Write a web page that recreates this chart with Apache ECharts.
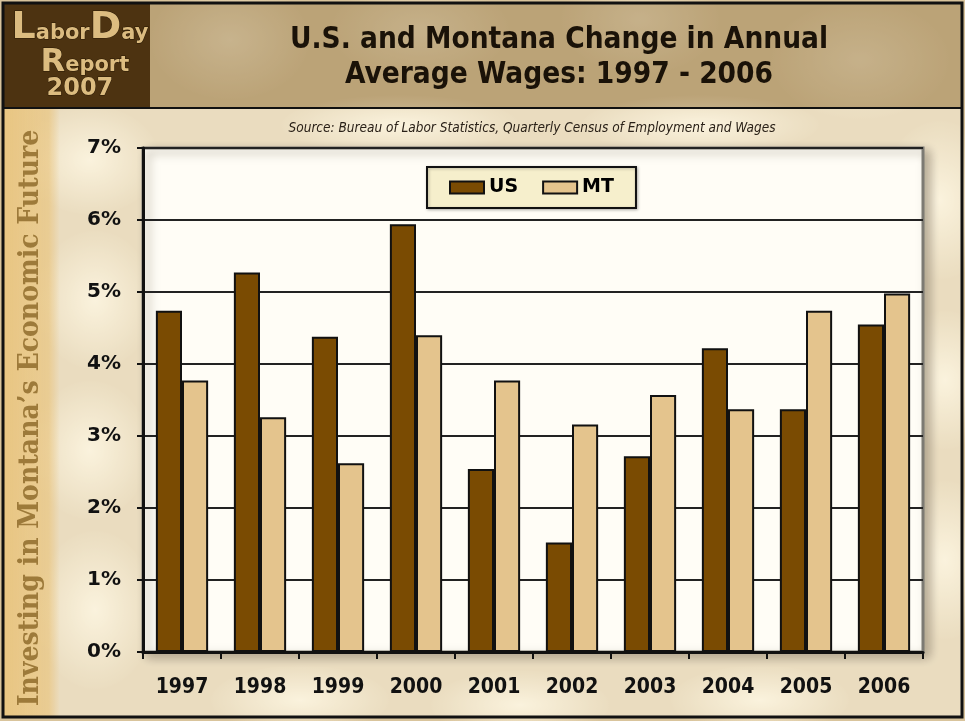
<!DOCTYPE html>
<html>
<head>
<meta charset="utf-8">
<script src="https://cdn.jsdelivr.net/npm/echarts@6/dist/echarts.min.js"></script>
<style>
  html, body { margin: 0; padding: 0; background: #fff; }
  #main {
    width: 965px; height: 721px;
    background-color: #d9c49c;
    background-image:
      radial-gradient(ellipse 70px 55px at 90px 160px, rgba(250,240,215,0.9), rgba(250,240,215,0) 100%),
      radial-gradient(ellipse 80px 60px at 230px 40px, rgba(245,232,205,0.7), rgba(245,232,205,0) 100%),
      radial-gradient(ellipse 90px 50px at 420px 30px, rgba(245,232,205,0.6), rgba(245,232,205,0) 100%),
      radial-gradient(ellipse 80px 55px at 640px 20px, rgba(245,232,205,0.6), rgba(245,232,205,0) 100%),
      radial-gradient(ellipse 90px 60px at 860px 60px, rgba(245,232,205,0.6), rgba(245,232,205,0) 100%),
      radial-gradient(ellipse 60px 80px at 940px 200px, rgba(250,240,215,0.9), rgba(250,240,215,0) 100%),
      radial-gradient(ellipse 55px 70px at 945px 380px, rgba(250,240,215,0.9), rgba(250,240,215,0) 100%),
      radial-gradient(ellipse 55px 80px at 945px 560px, rgba(250,240,215,0.9), rgba(250,240,215,0) 100%),
      radial-gradient(ellipse 60px 70px at 95px 300px, rgba(250,240,215,0.9), rgba(250,240,215,0) 100%),
      radial-gradient(ellipse 60px 70px at 90px 450px, rgba(250,240,215,0.9), rgba(250,240,215,0) 100%),
      radial-gradient(ellipse 60px 80px at 95px 610px, rgba(250,240,215,0.9), rgba(250,240,215,0) 100%),
      radial-gradient(ellipse 90px 35px at 300px 700px, rgba(250,240,215,0.9), rgba(250,240,215,0) 100%),
      radial-gradient(ellipse 90px 35px at 520px 705px, rgba(250,240,215,0.9), rgba(250,240,215,0) 100%),
      radial-gradient(ellipse 90px 35px at 760px 700px, rgba(250,240,215,0.9), rgba(250,240,215,0) 100%),
      radial-gradient(ellipse 120px 30px at 400px 125px, rgba(250,240,215,0.9), rgba(250,240,215,0) 100%),
      radial-gradient(ellipse 120px 30px at 700px 125px, rgba(250,240,215,0.9), rgba(250,240,215,0) 100%);
  }
</style>
</head>
<body>
<div id="main"></div>
<script>
  // values (percent change)
  var years = ['1997', '1998', '1999', '2000', '2001', '2002', '2003', '2004', '2005', '2006'];
  var usValues = [4.74, 5.27, 4.38, 5.94, 2.54, 1.52, 2.72, 4.22, 3.37, 4.55];
  var mtValues = [3.77, 3.26, 2.62, 4.40, 3.77, 3.16, 3.57, 3.37, 4.74, 4.98];
  var seriesNames = ['US', 'MT'];
  var yMin = 0, yMax = 7, yStep = 1;

  var usColor = '#7a4b02';
  var mtColor = '#e4c48d';
  var narrow = "'DejaVu Sans Condensed', sans-serif";
  var logoTan = '#dcbc80';

  var chart = echarts.init(document.getElementById('main'), null, { renderer: 'canvas' });

  var option = {
    animation: false,
    backgroundColor: 'transparent',
    graphic: [
      // header band
      { type: 'rect', z: 0, shape: { x: 150, y: 4, width: 812, height: 104 },
        style: { fill: 'rgba(140,110,60,0.38)' } },
      // body wash
      { type: 'rect', z: 0, shape: { x: 4, y: 109, width: 958, height: 608 },
        style: { fill: 'rgba(255,250,235,0.45)' } },
      // left strip
      { type: 'rect', z: 0, shape: { x: 4, y: 109, width: 56, height: 608 },
        style: { fill: new echarts.graphic.LinearGradient(0, 0, 1, 0, [
          { offset: 0, color: 'rgba(232,190,110,0.75)' },
          { offset: 0.8, color: 'rgba(232,190,110,0.55)' },
          { offset: 1, color: 'rgba(232,190,110,0)' }
        ]) } },
      // logo box
      { type: 'rect', z: 1, shape: { x: 4, y: 4, width: 146, height: 104 },
        style: { fill: '#4d3311' } },
      { type: 'text', z: 2, left: 11, top: 9,
        style: {
          text: '{b|L}{s|abor}{b|D}{s|ay}',
          rich: {
            b: { fontSize: 38, fontWeight: 'bold', fontFamily: 'DejaVu Sans', fill: logoTan, stroke: '#2a1a05', lineWidth: 1 },
            s: { fontSize: 21, fontWeight: 'bold', fontFamily: 'DejaVu Sans', fill: logoTan, stroke: '#2a1a05', lineWidth: 1, verticalAlign: 'bottom', padding: [0, 0, 3, 0] }
          }
        } },
      { type: 'text', z: 2, left: 40, top: 46,
        style: {
          text: '{b|R}{s|eport}',
          rich: {
            b: { fontSize: 32, fontWeight: 'bold', fontFamily: 'DejaVu Sans', fill: logoTan, stroke: '#2a1a05', lineWidth: 1 },
            s: { fontSize: 21, fontWeight: 'bold', fontFamily: 'DejaVu Sans', fill: logoTan, stroke: '#2a1a05', lineWidth: 1, verticalAlign: 'bottom', padding: [0, 0, 2, 0] }
          }
        } },
      { type: 'text', z: 2, left: 46, top: 76,
        style: { text: '2007', fontSize: 24, fontWeight: 'bold', fontFamily: 'DejaVu Sans', fill: logoTan, stroke: '#2a1a05', lineWidth: 1 } },
      // header bottom line
      { type: 'rect', z: 2, shape: { x: 4, y: 107, width: 958, height: 2 }, style: { fill: '#111' } },
      // title
      { type: 'text', z: 3, x: 559, y: 40,
        style: { text: 'U.S. and Montana Change in Annual', fontSize: 29.5, fontWeight: 'bold',
          fontFamily: narrow, fill: '#1a1208', align: 'center', verticalAlign: 'middle' } },
      { type: 'text', z: 3, x: 559, y: 75,
        style: { text: 'Average Wages: 1997 - 2006', fontSize: 29.5, fontWeight: 'bold',
          fontFamily: narrow, fill: '#1a1208', align: 'center', verticalAlign: 'middle' } },
      // source
      { type: 'text', z: 3, x: 532, y: 128,
        style: { text: 'Source: Bureau of Labor Statistics, Quarterly Census of Employment and Wages',
          fontSize: 13.5, fontStyle: 'italic', fontFamily: narrow, fill: '#2a2118',
          align: 'center', verticalAlign: 'middle' } },
      // vertical side text
      { type: 'text', z: 3, x: 31, y: 418, rotation: Math.PI / 2,
        style: { text: 'Investing in Montana\u2019s Economic Future', fontSize: 28, fontWeight: 'bold',
          fontFamily: 'DejaVu Serif Condensed', fill: '#9d7a3a', align: 'center', verticalAlign: 'middle' } },
      // outer frame
      { type: 'rect', z: 10, shape: { x: 3, y: 3, width: 959, height: 714 },
        style: { fill: 'none', stroke: '#111', lineWidth: 3 } }
    ],
    legend: {
      data: seriesNames,
      left: 427, top: 167,
      width: 214, height: 36,
      padding: [11, 22, 11, 22],
      itemGap: 24,
      itemWidth: 34, itemHeight: 12,
      icon: 'rect',
      backgroundColor: '#f6efcc',
      borderColor: '#111', borderWidth: 2,
      shadowColor: 'rgba(0,0,0,0.25)', shadowBlur: 3, shadowOffsetX: 1, shadowOffsetY: 1,
      textStyle: { fontSize: 19, fontWeight: 'bold', fontFamily: 'DejaVu Sans', color: '#000' },
      itemStyle: { borderColor: '#111', borderWidth: 2 }
    },
    grid: {
      left: 143, right: 42, top: 148, bottom: 69,
      show: true, backgroundColor: '#ffffff',
      borderColor: '#111', borderWidth: 3,
      shadowColor: 'rgba(40,25,5,0.6)', shadowBlur: 10, shadowOffsetX: 5, shadowOffsetY: 4
    },
    xAxis: {
      type: 'category',
      data: years,
      boundaryGap: true,
      axisLine: { lineStyle: { color: '#111', width: 3 } },
      axisTick: { show: true, interval: 0, length: 7, inside: false, lineStyle: { color: '#111', width: 2 } },
      axisLabel: { interval: 0, margin: 25, fontSize: 21, fontWeight: 'bold', fontFamily: narrow, color: '#111' },
      splitLine: { show: false }
    },
    yAxis: {
      type: 'value',
      min: yMin, max: yMax, interval: yStep,
      axisLine: { show: true, lineStyle: { color: '#111', width: 3 } },
      axisTick: { show: true, length: 6, lineStyle: { color: '#111', width: 2 } },
      axisLabel: { formatter: '{value}%', margin: 22, fontSize: 20, fontWeight: 'bold', fontFamily: 'DejaVu Sans', color: '#111' },
      splitLine: { show: true, lineStyle: { color: '#222', width: 2 } }
    },
    series: [
      {
        name: seriesNames[0], type: 'bar', data: usValues,
        barGap: '0%', barCategoryGap: '33%',
        itemStyle: { color: usColor, borderColor: '#111', borderWidth: 2 }
      },
      {
        name: seriesNames[1], type: 'bar', data: mtValues,
        barGap: '0%', barCategoryGap: '33%',
        itemStyle: { color: mtColor, borderColor: '#111', borderWidth: 2 }
      }
    ]
  };

  chart.setOption(option);
</script>
</body>
</html>
